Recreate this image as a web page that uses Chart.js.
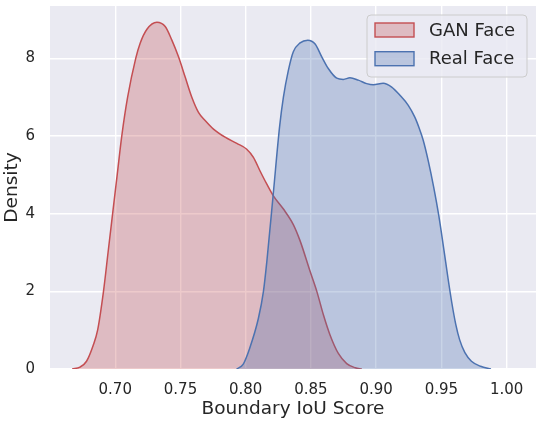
<!DOCTYPE html>
<html>
<head>
<meta charset="utf-8">
<script src="https://cdn.jsdelivr.net/npm/chart.js@4.4.0/dist/chart.umd.min.js"></script>
<style>
  html, body { margin: 0; padding: 0; background: #ffffff; }
  #c { display: block; }
</style>
</head>
<body>
<canvas id="c" width="542" height="421"></canvas>
<script>
// ---- Data ----
const seriesLabels = ["GAN Face", "Real Face"];

const ganX = [0.667, 0.673, 0.678, 0.683, 0.6865, 0.691, 0.6945, 0.698, 0.7015, 0.705, 0.7095, 0.7157,
              0.7191, 0.7243, 0.7319, 0.7383, 0.7434, 0.7485, 0.7536, 0.7587, 0.7638, 0.7689, 0.7753, 0.7842,
              0.7932, 0.8008, 0.8059, 0.811, 0.8162, 0.8212, 0.8289, 0.8365, 0.8417, 0.8494, 0.8545, 0.8596,
              0.8647, 0.871, 0.8774, 0.884, 0.889];
const ganY = [0, 0.05, 0.2, 0.6, 1.0, 2.0, 3.0, 4.0, 5.0, 6.0, 7.0, 8.0,
              8.39, 8.75, 8.93, 8.82, 8.47, 8.04, 7.52, 7.0, 6.61, 6.40, 6.18, 5.97,
              5.81, 5.66, 5.45, 5.10, 4.76, 4.46, 4.12, 3.72, 3.30, 2.51, 2.0, 1.39,
              0.87, 0.40, 0.14, 0.03, 0];

const realX = [0.793, 0.798, 0.803, 0.8097, 0.8136, 0.8162, 0.8212, 0.826, 0.8289, 0.8327, 0.8365, 0.8417,
               0.8476, 0.8532, 0.8583, 0.8633, 0.8698, 0.8748, 0.8799, 0.8863, 0.8927, 0.8978, 0.9054, 0.9119,
               0.9182, 0.9246, 0.9297, 0.933, 0.936, 0.940, 0.944, 0.948, 0.952, 0.955, 0.958, 0.961,
               0.964, 0.968, 0.973, 0.980, 0.988];
const realY = [0, 0.12, 0.53, 1.3, 2.0, 2.77, 4.54, 6.25, 7.0, 7.69, 8.17, 8.40,
               8.47, 8.37, 8.04, 7.74, 7.49, 7.46, 7.50, 7.44, 7.35, 7.32, 7.36, 7.26,
               7.05, 6.79, 6.48, 6.2, 5.9, 5.35, 4.7, 3.95, 3.05, 2.35, 1.7, 1.15,
               0.75, 0.42, 0.2, 0.07, 0];

const xTicks = [0.70, 0.75, 0.80, 0.85, 0.90, 0.95, 1.00];
const yTicks = [0, 2, 4, 6, 8];

const xTitle = "Boundary IoU Score";
const yTitle = "Density";

// ---- Styling ----
const RED = "#c44e52", BLUE = "#4c72b0";
const RED_FILL = "rgba(196,78,82,0.3)", BLUE_FILL = "rgba(76,114,176,0.3)";
const TEXT = "#262626";
const FONT = "'DejaVu Sans', sans-serif";

const toPts = (xs, ys) => xs.map((x, i) => ({ x: x, y: ys[i] }));

const bgPlugin = {
  id: "bg",
  beforeDraw(chart) {
    const { ctx, chartArea: a } = chart;
    ctx.save();
    ctx.fillStyle = "#eaeaf2";
    ctx.fillRect(a.left, a.top, a.right - a.left, a.bottom - a.top);
    ctx.restore();
  }
};

const legendPlugin = {
  id: "boxLegend",
  afterDraw(chart) {
    const ctx = chart.ctx;
    const bx = 367, by = 15, bw = 160, bh = 62, r = 4;
    ctx.save();
    ctx.beginPath();
    ctx.moveTo(bx + r, by);
    ctx.arcTo(bx + bw, by, bx + bw, by + bh, r);
    ctx.arcTo(bx + bw, by + bh, bx, by + bh, r);
    ctx.arcTo(bx, by + bh, bx, by, r);
    ctx.arcTo(bx, by, bx + bw, by, r);
    ctx.closePath();
    ctx.fillStyle = "rgba(234,234,242,0.8)";
    ctx.fill();
    ctx.strokeStyle = "#cccccc";
    ctx.lineWidth = 1;
    ctx.stroke();
    const rows = [
      { label: seriesLabels[0], fill: RED_FILL, stroke: RED, cy: 30 },
      { label: seriesLabels[1], fill: BLUE_FILL, stroke: BLUE, cy: 58.7 }
    ];
    rows.forEach(rw => {
      ctx.fillStyle = rw.fill;
      ctx.fillRect(375, rw.cy - 7, 39, 14);
      ctx.strokeStyle = rw.stroke;
      ctx.lineWidth = 1.4;
      ctx.strokeRect(375, rw.cy - 7, 39, 14);
      ctx.fillStyle = TEXT;
      ctx.font = "18px " + FONT;
      ctx.textBaseline = "middle";
      ctx.textAlign = "left";
      ctx.fillText(rw.label, 429, rw.cy + 1);
    });
    ctx.restore();
  }
};

new Chart(document.getElementById("c"), {
  type: "line",
  data: {
    datasets: [
      {
        label: seriesLabels[0],
        data: toPts(ganX, ganY),
        borderColor: RED,
        backgroundColor: RED_FILL,
        borderWidth: 1.5,
        fill: "origin",
        pointRadius: 0,
        cubicInterpolationMode: "monotone",
        order: 1
      },
      {
        label: seriesLabels[1],
        data: toPts(realX, realY),
        borderColor: BLUE,
        backgroundColor: BLUE_FILL,
        borderWidth: 1.5,
        fill: "origin",
        pointRadius: 0,
        cubicInterpolationMode: "monotone",
        order: 0
      }
    ]
  },
  options: {
    responsive: false,
    animation: false,
    devicePixelRatio: 1,
    layout: { padding: { top: 6, right: 6, left: 0, bottom: 0 } },
    plugins: { legend: { display: false }, tooltip: { enabled: false } },
    scales: {
      x: {
        type: "linear",
        min: 0.650,
        max: 1.0225,
        afterBuildTicks: s => { s.ticks = xTicks.map(v => ({ value: v })); },
        afterFit: s => { s.height = 52; s.paddingLeft = 0; s.paddingRight = 0; },
        ticks: {
          callback: v => Number(v).toFixed(2),
          color: TEXT,
          font: { family: FONT, size: 15 },
          padding: 12,
          maxRotation: 0,
          autoSkip: false
        },
        grid: { color: "#ffffff", lineWidth: 1.4, drawTicks: false },
        border: { display: false },
        title: {
          display: true,
          text: xTitle,
          color: TEXT,
          font: { family: FONT, size: 18.5 },
          padding: { top: 0, bottom: 1 }
        }
      },
      y: {
        type: "linear",
        min: 0,
        max: 9.35,
        afterBuildTicks: s => { s.ticks = yTicks.map(v => ({ value: v })); },
        afterFit: s => { s.width = 50; s.paddingTop = 0; s.paddingBottom = 0; },
        ticks: {
          callback: v => String(v),
          color: TEXT,
          font: { family: FONT, size: 15 },
          padding: 15,
          autoSkip: false
        },
        grid: { color: "#ffffff", lineWidth: 1.4, drawTicks: false },
        border: { display: false },
        title: {
          display: true,
          text: yTitle,
          color: TEXT,
          font: { family: FONT, size: 18.5 },
          padding: { top: 1, bottom: 0 }
        }
      }
    }
  },
  plugins: [bgPlugin, legendPlugin]
});
</script>
</body>
</html>
